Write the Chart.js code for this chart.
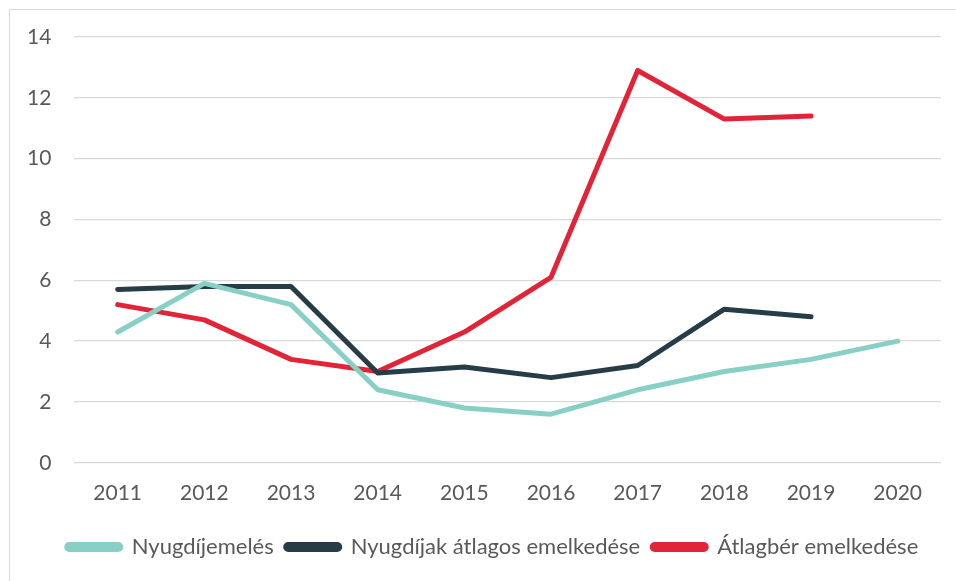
<html>

<head>
    <meta charset="utf-8" />
    <script src="https://cdn.jsdelivr.net/npm/chart.js@4.4.0/dist/chart.umd.min.js"></script>
    <title>Nyugdíjemelés</title>
    <style>
        body { margin: 0; background: #fff; }
        #wrap { position: relative; width: 956px; height: 581px; }
        #frame { position: absolute; left: 9px; top: 9px; right: 0; bottom: 0;
                 border-top: 1.5px solid #d9d9d9; border-left: 1.5px solid #d9d9d9; }
        canvas { position: absolute; left: 0; top: 0; }
    </style>
</head>

<body>
    <div id="wrap">
        <div id="frame"></div>
        <canvas id="line-chart" width="956" height="581"></canvas>
    </div>
    <script>
        // years on the x axis
        const years = ["2011", "2012", "2013", "2014", "2015", "2016", "2017", "2018", "2019", "2020"];

        // series (%)
        const nyugdijemeles = [4.3, 5.9, 5.2, 2.4, 1.8, 1.6, 2.4, 3.0, 3.4, 4.0];
        const nyugdijakAtlagos = [5.7, 5.8, 5.8, 2.95, 3.15, 2.8, 3.2, 5.05, 4.8, null];
        const atlagber = [5.2, 4.7, 3.4, 3.0, 4.3, 6.1, 12.9, 11.3, 11.4, null];

        const yTicks = [0, 2, 4, 6, 8, 10, 12, 14];

        const font = "Lato, 'Noto Sans', sans-serif";
        const textColor = "#595959";

        function series(label, data, color) {
            return {
                label: label,
                data: data,
                borderColor: color,
                backgroundColor: color,
                borderWidth: 5,
                borderCapStyle: "round",
                borderJoinStyle: "round",
                pointRadius: 0,
                tension: 0,
                spanGaps: false,
            };
        }

        // the legend in the original sits a little right of centre
        const shiftLegend = {
            id: "shiftLegend",
            afterLayout(chart) {
                chart.legend.left += 20;
                chart.legend.right += 20;
            },
        };

        new Chart(document.getElementById("line-chart"), {
            type: "line",
            data: {
                labels: years,
                datasets: [
                    series("Nyugdíjemelés", nyugdijemeles, "#88d0c5"),
                    series("Nyugdíjak átlagos emelkedése", nyugdijakAtlagos, "#263d48"),
                    series("Átlagbér emelkedése", atlagber, "#e32337"),
                ],
            },
            plugins: [shiftLegend],
            options: {
                responsive: false,
                animation: false,
                layout: { padding: { left: 4, right: 15, top: 37, bottom: 13 } },
                plugins: {
                    tooltip: { enabled: false },
                    legend: {
                        position: "bottom",
                        labels: {
                            boxWidth: 54,
                            boxHeight: 5,
                            useBorderRadius: true,
                            borderRadius: 2.5,
                            padding: 12,
                            color: textColor,
                            font: { family: font, size: 22 },
                        },
                    },
                },
                scales: {
                    x: {
                        offset: true,
                        grid: { display: false, drawTicks: false },
                        border: { display: false },
                        ticks: { color: textColor, padding: 18, font: { family: font, size: 21 } },
                    },
                    y: {
                        min: 0,
                        max: 14,
                        afterBuildTicks: (axis) => { axis.ticks = yTicks.map((v) => ({ value: v })); },
                        grid: { color: "#d9d9d9", lineWidth: 1.3, drawTicks: false },
                        border: { display: false },
                        ticks: { color: textColor, padding: 23, font: { family: font, size: 21 } },
                    },
                },
            },
        });
    </script>
</body>

</html>
